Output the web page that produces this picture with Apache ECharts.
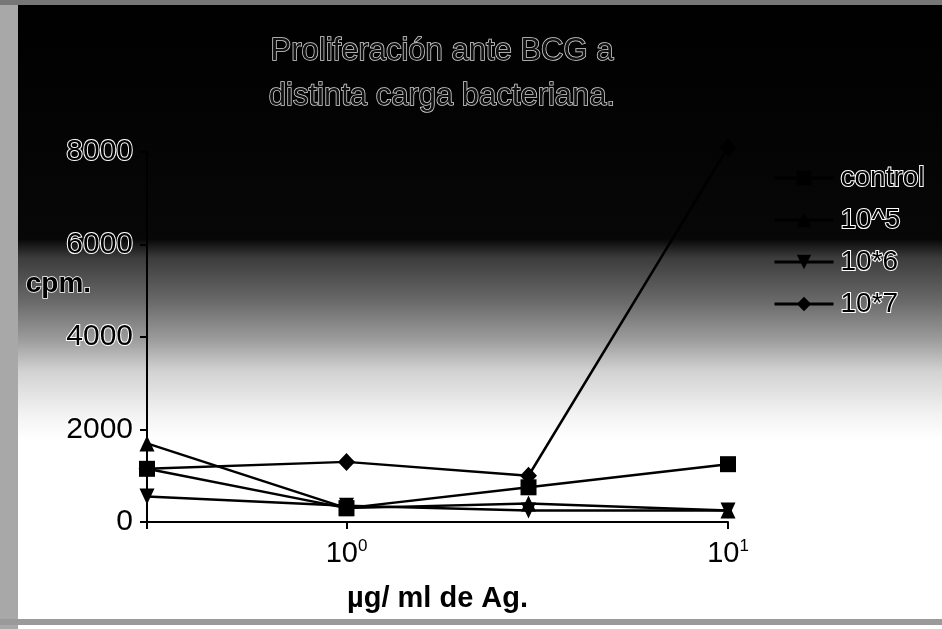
<!DOCTYPE html>
<html>
<head>
<meta charset="utf-8">
<script src="https://cdn.jsdelivr.net/npm/echarts@6/dist/echarts.min.js"></script>
<style>
  html, body { margin: 0; padding: 0; background: #fff; }
  #main { width: 942px; height: 629px; }
</style>
</head>
<body>
<div id="main"></div>
<script>
// dose (µg/ml de Ag.) on a log axis
const doses = [0.3, 1, 3, 10];
const control = [1150, 300, 750, 1250];
const load5 = [1700, 300, 400, 250];
const load6 = [550, 350, 250, 250];
const load7 = [1150, 1300, 1000, 8100];
const seriesNames = ['control', '10^5', '10*6', '10*7'];
const yTicks = [0, 2000, 4000, 6000, 8000];

const font = '"Liberation Sans", Arial, sans-serif';
const chart = echarts.init(document.getElementById('main'), null, { renderer: 'canvas' });

function pairs(vals) {
  return doses.map((d, i) => [d, vals[i]]);
}

const halo = { textBorderColor: '#ffffff', textBorderWidth: 2 };

const option = {
  animation: false,
  title: {
    text: 'Proliferación ante BCG a\ndistinta carga bacteriana.',
    left: 437,
    top: 24,
    textAlign: 'center',
    textStyle: {
      fontFamily: font, fontSize: 31, fontWeight: 'normal', lineHeight: 45,
      color: '#111', textBorderColor: '#d8d8d8', textBorderWidth: 1.5
    }
  },
  graphic: [
    {
      type: 'rect', z: -10, silent: true,
      shape: { x: 0, y: 0, width: 942, height: 629 },
      style: {
        fill: new echarts.graphic.LinearGradient(0, 0, 0, 1, [
          { offset: 0, color: '#000' },
          { offset: 0.38, color: '#070707' },
          { offset: 0.41, color: '#3c3c3c' },
          { offset: 0.48, color: '#6a6a6a' },
          { offset: 0.54, color: '#9c9c9c' },
          { offset: 0.59, color: '#d2d2d2' },
          { offset: 0.66, color: '#f3f3f3' },
          { offset: 0.70, color: '#fff' },
          { offset: 1, color: '#fff' }
        ])
      }
    },
    { type: 'rect', z: -9, silent: true, shape: { x: 0, y: 0, width: 18, height: 629 }, style: { fill: '#a8a8a8' } },
    { type: 'rect', z: -9, silent: true, shape: { x: 0, y: 619, width: 942, height: 6 }, style: { fill: '#9a9a9a' } },
    { type: 'rect', z: -9, silent: true, shape: { x: 0, y: 0, width: 942, height: 5 }, style: { fill: '#777' } },
    {
      type: 'text', left: 25, top: 270,
      style: {
        text: 'cpm.', font: 'bold 28px ' + font, fill: '#000',
        stroke: '#fff', lineWidth: 1.5
      }
    }
  ],
  grid: { left: 147, right: 214, top: 152, bottom: 107 },
  legend: {
    orient: 'vertical',
    left: 768,
    top: 158,
    itemWidth: 59,
    itemHeight: 18,
    itemGap: 12,
    data: seriesNames,
    lineStyle: { width: 3 },
    textStyle: Object.assign({ fontFamily: font, fontSize: 28, lineHeight: 30, color: '#000', padding: [0, 0, 0, 2] }, halo)
  },
  xAxis: {
    type: 'log',
    logBase: 10,
    min: 0.3,
    max: 10,
    name: 'µg/ ml de Ag.',
    nameLocation: 'middle',
    nameGap: 62,
    nameTextStyle: { fontFamily: font, fontSize: 29, fontWeight: 'bold', color: '#000' },
    axisLine: { show: true, lineStyle: { color: '#000', width: 2 } },
    axisTick: { show: true, length: 7, lineStyle: { color: '#000', width: 2 } },
    splitLine: { show: false },
    minorTick: { show: false },
    axisLabel: {
      margin: 16,
      color: '#000',
      fontFamily: font,
      fontSize: 29,
      formatter: function (v) {
        if (Math.abs(v - 1) < 1e-6) return '10{s|0}';
        if (Math.abs(v - 10) < 1e-6) return '10{s|1}';
        return '';
      },
      rich: {
        s: { fontFamily: font, fontSize: 17, color: '#000', padding: [0, 0, 14, 0] }
      }
    }
  },
  yAxis: {
    type: 'value',
    min: yTicks[0],
    max: yTicks[yTicks.length - 1],
    interval: 2000,
    axisLine: { show: true, lineStyle: { color: '#000', width: 2 } },
    axisTick: { show: true, length: 7, lineStyle: { color: '#000', width: 2 } },
    splitLine: { show: false },
    axisLabel: Object.assign({
      margin: 14, color: '#000', fontFamily: font, fontSize: 30,
      formatter: function (v) { return String(v); }
    }, halo)
  },
  series: [
    {
      name: seriesNames[0], type: 'line', data: pairs(control), z: 6,
      symbol: 'rect', symbolSize: 16, clip: false,
      lineStyle: { color: '#000', width: 2.5 }, itemStyle: { color: '#000' }
    },
    {
      name: seriesNames[1], type: 'line', data: pairs(load5), z: 4,
      symbol: 'triangle', symbolSize: [15, 16], clip: false,
      lineStyle: { color: '#000', width: 2.5 }, itemStyle: { color: '#000' }
    },
    {
      name: seriesNames[2], type: 'line', data: pairs(load6), z: 4,
      symbol: 'path://M0,0 L10,0 L5,10 Z', symbolSize: [15, 16], clip: false,
      lineStyle: { color: '#000', width: 2.5 }, itemStyle: { color: '#000' }
    },
    {
      name: seriesNames[3], type: 'line', data: pairs(load7), z: 3,
      symbol: 'path://M5,0 L10,5 L5,10 L0,5 Z', symbolSize: [17, 18], clip: false,
      lineStyle: { color: '#000', width: 2.5 }, itemStyle: { color: '#000' }
    }
  ]
};

chart.setOption(option);
</script>
</body>
</html>
